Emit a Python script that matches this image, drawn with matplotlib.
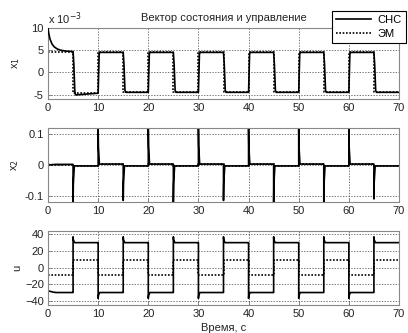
import numpy as np
import matplotlib
matplotlib.use("Agg")
import matplotlib.pyplot as plt
from matplotlib.ticker import FuncFormatter

plt.rcParams['font.family'] = ['Liberation Sans', 'DejaVu Sans']
plt.rcParams['font.size'] = 8

# ---------------- data ----------------
# switching instants (s) and the plateau level after each switch
switch_t = [5, 10, 15, 20, 25, 30, 35, 40, 45, 50, 55, 60, 65]
t_end = 70

# x1 (state 1), SNS (solid) : initial transient then plateaus
x1_init_t = [0.0, 0.15, 0.4, 0.8, 1.2, 1.8, 2.5, 3.5, 4.9]
x1_init_v = [0.0100, 0.0088, 0.0075, 0.0064, 0.0058, 0.0053, 0.0050, 0.0048, 0.0047]
x1_sns_levels = [-0.0047, 0.0045, -0.0045, 0.0045, -0.0045, 0.0045, -0.0045,
                 0.0045, -0.0045, 0.0045, -0.0045, 0.0045, -0.0045]
x1_em_levels0 = 0.0045
x1_em_levels = [-0.0047, 0.0045, -0.0045, 0.0045, -0.0045, 0.0045, -0.0045,
                0.0045, -0.0045, 0.0045, -0.0045, 0.0045, -0.0045]

# x2 (state 2): small plateau values and spikes at each switch
x2_init_v = [0.004, 0.0005, 0.002]
x2_sns_levels = [-0.003, 0.003, -0.003, 0.003, -0.003, 0.003, -0.003,
                 0.003, -0.003, 0.003, -0.003, 0.003, -0.003]
x2_spikes = [-0.12, 0.12, -0.115, 0.12, -0.12, 0.12, -0.115,
             0.12, -0.12, 0.12, -0.12, 0.12, -0.11]
x2_em_levels = [-0.002, 0.002, -0.002, 0.002, -0.002, 0.002, -0.002,
                0.002, -0.002, 0.002, -0.002, 0.002, -0.002]

# u (control)
u_init_t = [0.0, 0.4, 1.0, 1.6, 4.95]
u_init_v = [-28.0, -28.5, -29.5, -30.0, -30.0]
u_sns_levels = [30, -30, 30, -30, 30, -30, 30, -30, 30, -30, 30, -30, 30]
u_spikes = [37, -37, 37, -37, 37, -37, 37, -37, 37, -37, 37, -37, 37]
u_em_init = -9
u_em_levels = [9, -9, 9, -9, 9, -9, 9, -9, 9, -9, 9, -9, 9]

xticks = [0, 10, 20, 30, 40, 50, 60, 70]


def x1_sns_path():
    t = list(x1_init_t)
    v = list(x1_init_v)
    for k, (ts, lv) in enumerate(zip(switch_t, x1_sns_levels)):
        prev = v[-1]
        if lv < prev:   # falling edge, slightly rounded
            t += [ts, ts + 0.15, ts + 0.35, ts + 0.5]
            v += [prev, prev * 0.4, lv * 0.9, lv * 1.08 if k == 0 else lv]
        else:
            t += [ts, ts + 0.2, ts + 0.3]
            v += [prev, lv * 0.9, lv]
        t_next = switch_t[k + 1] if k + 1 < len(switch_t) else t_end
        t.append(t_next - 0.05)
        v.append(lv)
    return t, v


def step_path(init_level, levels, init_t0=0.0):
    t = [init_t0]
    v = [init_level]
    for k, (ts, lv) in enumerate(zip(switch_t, levels)):
        t += [ts, ts]
        v += [v[-1], lv]
    t.append(t_end)
    v.append(v[-1])
    return t, v


def spike_path(init_t, init_v, levels, spikes, settle=0.3):
    t = list(init_t)
    v = list(init_v)
    for k, (ts, lv, sp) in enumerate(zip(switch_t, levels, spikes)):
        t += [ts, ts, ts + 0.05, ts + settle]
        v += [v[-1], sp, lv + (sp - lv) * 0.5, lv]
        t_next = switch_t[k + 1] if k + 1 < len(switch_t) else t_end
        t.append(t_next - 0.01)
        v.append(lv)
    return t, v


fig = plt.figure(figsize=(4.08, 3.33), dpi=100)
W, H = 408.0, 333.0


def add_ax(left, top, right, bottom):
    return fig.add_axes([left / W, 1 - bottom / H, (right - left) / W, (bottom - top) / H])


ax1 = add_ax(48, 28, 399, 99)
ax2 = add_ax(48, 128, 399, 202)
ax3 = add_ax(48, 231, 399, 305)

lw = 1.2
# x1
t, v = step_path(x1_em_levels0, x1_em_levels)
ax1.plot(t, v, color='black', lw=lw, ls=(0, (1, 1)), label='ЭМ', zorder=2)
t, v = x1_sns_path()
l_sns, = ax1.plot(t, v, color='black', lw=lw, label='СНС', zorder=3)
# x2
t, v = step_path(0.0, x2_em_levels)
ax2.plot(t, v, color='black', lw=lw, ls=(0, (1, 1)))
t, v = spike_path([0.0, 0.3, 1.5], x2_init_v, x2_sns_levels, x2_spikes, settle=0.25)
ax2.plot(t, v, color='black', lw=lw)
# u
t, v = step_path(u_em_init, u_em_levels)
ax3.plot(t, v, color='black', lw=lw, ls=(0, (1, 1)))
t, v = spike_path(u_init_t, u_init_v, u_sns_levels, u_spikes, settle=0.3)
ax3.plot(t, v, color='black', lw=lw)

for ax in (ax1, ax2, ax3):
    ax.set_xlim(0, 70)
    ax.set_xticks(xticks)
    ax.grid(True, color='#444444', ls=(0, (2, 2)), lw=0.5)
    ax.tick_params(direction='in', length=3, width=0.6, color='#777777', labelsize=8,
                   pad=3, labelcolor='#222222')
    for s in ax.spines.values():
        s.set_color('#888888')
        s.set_linewidth(0.8)

ax1.set_ylim(-0.006, 0.010)
ax1.set_yticks([-0.005, 0, 0.005, 0.010])
ax1.yaxis.set_major_formatter(FuncFormatter(lambda val, _: f"{val * 1e3:g}"))
ax1.text(0.0, 1.02, 'x 10$^{-3}$', transform=ax1.transAxes, fontsize=8, va='bottom',
         ha='left', color='#222222')
ax1.set_ylabel('x$_1$', labelpad=7, color='#222222')
ax1.set_title('Вектор состояния и управление', fontsize=8, pad=5, color='#222222')

ax2.set_ylim(-0.12, 0.12)
ax2.set_yticks([-0.1, 0, 0.1])
ax2.yaxis.set_major_formatter(FuncFormatter(lambda val, _: f"{val:g}"))
ax2.set_ylabel('x$_2$', labelpad=3, color='#222222')

ax3.set_ylim(-45, 44)
ax3.set_yticks([-40, -20, 0, 20, 40])
ax3.set_ylabel('u', labelpad=2, color='#222222')
ax3.set_xlabel('Время, с', labelpad=3, color='#222222')

leg = fig.legend(handles=[l_sns, ax1.lines[0]], labels=['СНС', 'ЭМ'],
                 loc='upper right', bbox_to_anchor=(406 / W, 1 - 11 / H),
                 borderaxespad=0.0,
                 fancybox=False, framealpha=1, edgecolor='black',
                 fontsize=8, handlelength=3.2, borderpad=0.35, labelspacing=0.35,
                 handletextpad=0.6)
leg.get_frame().set_linewidth(0.8)

fig.savefig('out.png', dpi=100)
